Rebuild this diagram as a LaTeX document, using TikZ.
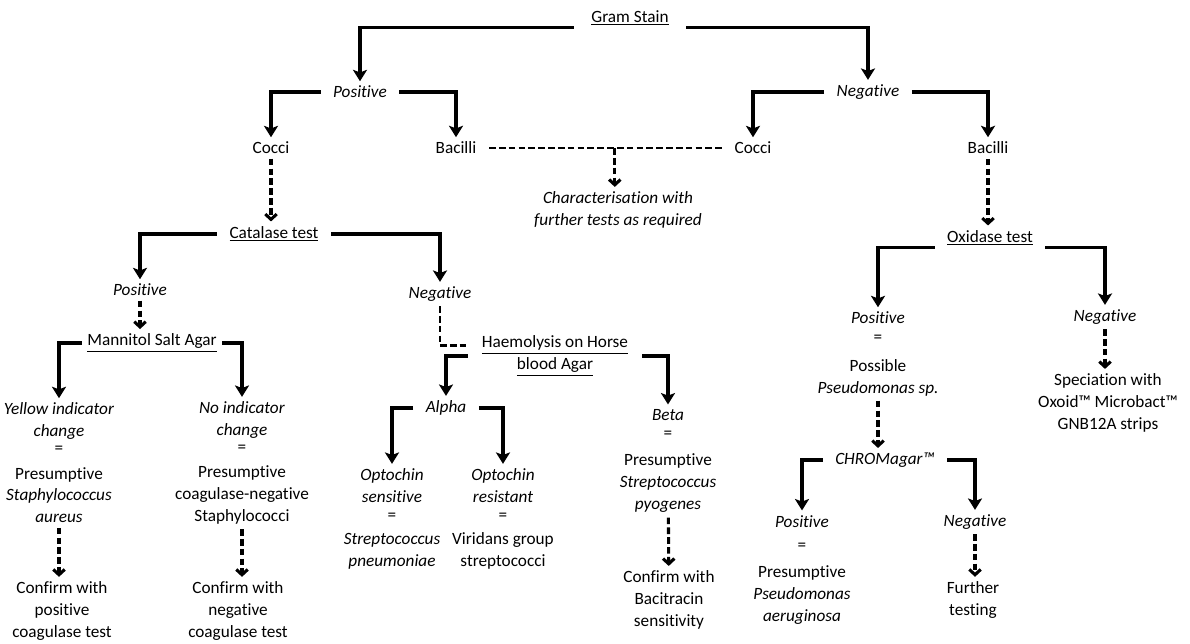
\documentclass[tikz,border=0pt]{standalone}
\usepackage{fontspec}
\setmainfont{Carlito}[Ligatures=NoCommon]
\usetikzlibrary{arrows.meta}

\begin{document}
\begin{tikzpicture}[x=0.02cm, y=-0.02cm,
  font=\fontsize{9.8}{12.5}\selectfont,
  lbl/.style = {inner xsep=7pt, inner ysep=2.5pt},
  blk/.style = {align=center, inner sep=2.5pt},
  arr/.style = {draw=black, line width=1.9pt, -{Stealth[length=6.5pt,width=8pt,inset=1.5pt]}},
  darr/.style = {draw=black, line width=1.75pt, dash pattern=on 3.8pt off 1.8pt, -{Straight Barb[length=3pt,width=6.5pt]}},
  dln/.style = {draw=black, line width=1.6pt, dash pattern=on 3.8pt off 1.8pt}]
\useasboundingbox (0,0) rectangle (1190,644);
\node[lbl, inner xsep=10pt] (gram) at (630,18) {\underline{Gram Stain}};
\node[lbl] (gpos) at (360,92) {\textit{Positive}};
\node[lbl] (gneg) at (868,92) {\textit{Negative}};
\node[lbl] (pcoc) at (271,148) {Cocci};
\node[lbl] (pbac) at (456,148) {Bacilli};
\node[lbl] (ncoc) at (753,148) {Cocci};
\node[lbl] (nbac) at (988,148) {Bacilli};
\node[blk] (charac) at (618,210) {\textit{Characterisation with}\\\textit{further tests as required}};
\node[lbl] (cat) at (274,234) {\underline{Catalase test}};
\node[lbl] (cpos) at (140,290) {\textit{Positive}};
\node[lbl] (cneg) at (440,294) {\textit{Negative}};
\node[lbl, inner xsep=3pt] (msa) at (152,343) {\underline{Mannitol Salt Agar}};
\node[blk, inner xsep=8pt] (haem) at (555,356) {\underline{Haemolysis on Horse}\\\underline{blood Agar}};
\node[blk] (yel) at (59,463) {\textit{Yellow indicator}\\\textit{change}\\[-3pt]=\\[2pt]Presumptive\\\textit{Staphylococcus}\\\textit{aureus}};
\node[blk] (nind) at (242,463) {\textit{No indicator}\\\textit{change}\\[-3pt]=\\[2pt]Presumptive\\coagulase-negative\\Staphylococci};
\node[blk] (conf1) at (62,611) {Confirm with\\positive\\coagulase test};
\node[blk] (conf2) at (238,611) {Confirm with\\negative\\coagulase test};
\node[lbl] (alpha) at (446,408) {\textit{Alpha}};
\node[blk] (opts) at (392,519) {\textit{Optochin}\\\textit{sensitive}\\[-2pt]=\\[1pt]\textit{Streptococcus}\\\textit{pneumoniae}};
\node[blk] (optr) at (503,519) {\textit{Optochin}\\\textit{resistant}\\[-2pt]=\\[1pt]Viridans group\\streptococci};
\node[blk] (beta) at (668,461) {\textit{Beta}\\[-2pt]=\\[3pt]Presumptive\\\textit{Streptococcus}\\\textit{pyogenes}};
\node[blk] (confb) at (669,600) {Confirm with\\Bacitracin\\sensitivity};
\node[lbl] (oxi) at (990,238) {\underline{Oxidase test}};
\node[blk] (opos) at (878,354) {\textit{Positive}\\[-2pt]=\\[4pt]Possible\\\textit{Pseudomonas sp.}};
\node[lbl] (oneg) at (1105,317) {\textit{Negative}};
\node[blk] (spec) at (1108,403) {Speciation with\\Oxoid™ Microbact™\\GNB12A strips};
\node[lbl] (chrom) at (885,460) {\textit{CHROMagar™}};
\node[blk] (cpos2) at (802,570) {\textit{Positive}\\[1pt]=\\[3pt]Presumptive\\\textit{Pseudomonas}\\\textit{aeruginosa}};
\node[lbl] (cneg2) at (975,522) {\textit{Negative}};
\node[blk] (furth) at (973,600) {Further\\testing};
\draw[arr] ([yshift=-5.5pt]gram.west) -| (gpos);
\draw[arr] ([yshift=-5.5pt]gram.east) -| (gneg);
\draw[arr] (gpos.west) -| (pcoc);
\draw[arr] (gpos.east) -| (pbac);
\draw[arr] (gneg.west) -| (ncoc);
\draw[arr] (gneg.east) -| (nbac);
\draw[dln] (pbac.east) -- coordinate[pos=.54] (mid) (ncoc.west);
\draw[darr] (mid) -- (mid |- charac.north);
\draw[darr] (pcoc.south) -- (pcoc.south |- cat.north);
\draw[arr] (cat.west) -| (cpos);
\draw[arr] (cat.east) -| (cneg);
\draw[darr] (cpos.south) -- (cpos.south |- msa.north);
\draw[arr] (msa.west) -| (yel);
\draw[arr] (msa.east) -| (nind);
\draw[darr] (yel.south) -- (yel.south |- conf1.north);
\draw[darr] (nind.south) -- (nind.south |- conf2.north);
\draw[dln] (cneg.south) |- ([yshift=6pt]haem.west);
\draw[arr] (haem.west) -| (alpha);
\draw[arr] (haem.east) -| (beta);
\draw[arr] (alpha.west) -| (opts);
\draw[arr] (alpha.east) -| (optr);
\draw[darr] (beta) -- (confb);
\draw[darr] (nbac.south) -- (nbac.south |- oxi.north);
\draw[arr] ([yshift=-5.5pt]oxi.west) -| (opos);
\draw[arr] ([yshift=-5.5pt]oxi.east) -| (oneg);
\draw[darr] (opos.south) -- (opos.south |- chrom.north);
\draw[darr] (oneg.south) -- (oneg.south |- spec.north);
\draw[arr] (chrom.west) -| (cpos2);
\draw[arr] (chrom.east) -| (cneg2);
\draw[darr] (cneg2.south) -- (cneg2.south |- furth.north);
\end{tikzpicture}
\end{document}
